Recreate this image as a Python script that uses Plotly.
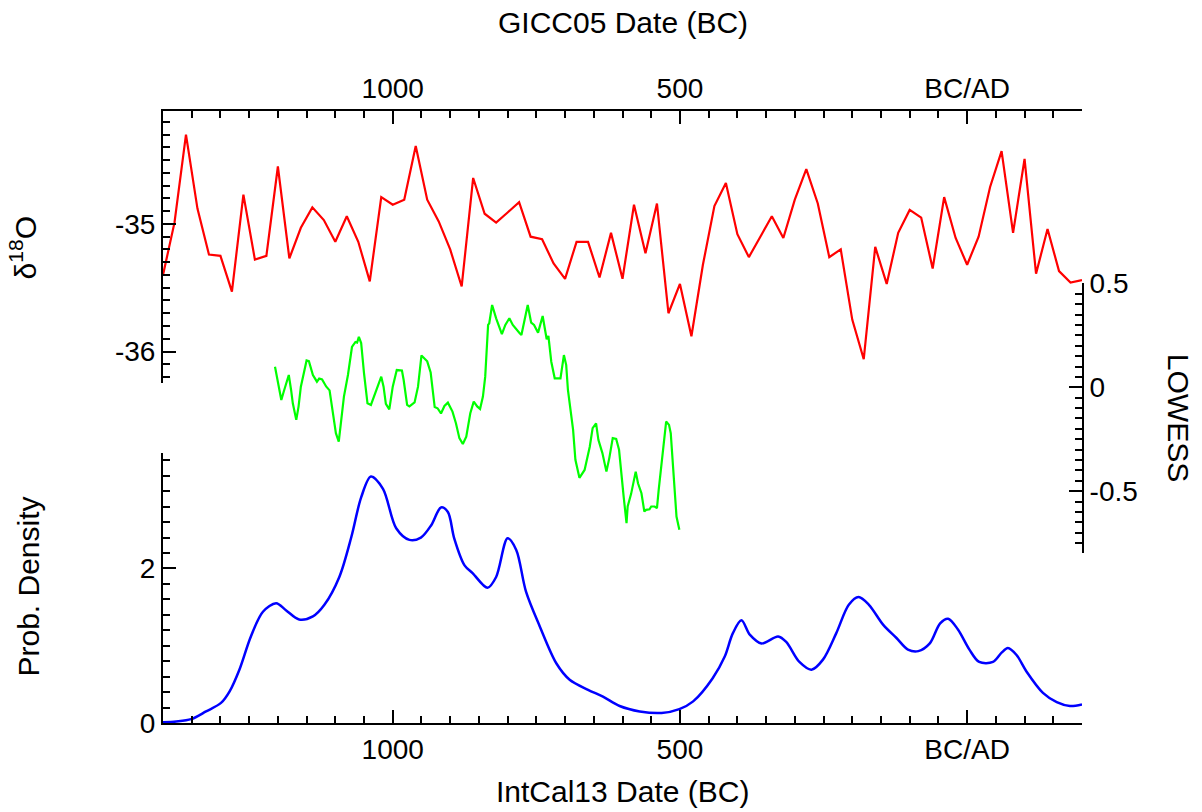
import plotly.graph_objects as go

# ---------------- data ----------------
# Red: GICC05 delta18O (years, BC negative)
red_years = [-1400, -1380, -1360, -1340, -1320, -1300, -1280, -1260, -1240, -1220,
             -1200, -1180, -1160, -1140, -1120, -1100, -1080, -1060, -1040, -1020,
             -1000, -980, -960, -940, -920, -900, -880, -860, -840, -820,
             -800, -780, -760, -740, -720, -700, -680, -660, -640, -620,
             -600, -580, -560, -540, -520, -500, -480, -460, -440, -420,
             -400, -380, -360, -340, -320, -300, -280, -260, -240, -220,
             -200, -180, -160, -140, -120, -100, -80, -60, -40, -20,
             0, 20, 40, 60, 80, 100, 120, 140, 160, 180, 200]
red_d18o = [-35.40, -34.99, -34.30, -34.88, -35.24, -35.25, -35.53, -34.77, -35.28, -35.25,
            -34.55, -35.27, -35.03, -34.87, -34.97, -35.14, -34.94, -35.14, -35.45, -34.79,
            -34.85, -34.81, -34.39, -34.81, -34.98, -35.20, -35.49, -34.64, -34.92, -34.99,
            -34.91, -34.83, -35.10, -35.12, -35.31, -35.43, -35.14, -35.14, -35.42, -35.07,
            -35.43, -34.85, -35.23, -34.84, -35.70, -35.47, -35.88, -35.32, -34.86, -34.68,
            -35.08, -35.26, -35.10, -34.94, -35.11, -34.81, -34.57, -34.84, -35.26, -35.20,
            -35.75, -36.06, -35.18, -35.47, -35.07, -34.89, -34.95, -35.35, -34.79, -35.11,
            -35.32, -35.10, -34.71, -34.43, -35.07, -34.49, -35.39, -35.04, -35.37, -35.46, -35.44]

# Green: LOWESS
green_years = [-1205, -1194, -1190, -1181, -1177, -1174, -1168, -1164, -1160, -1155,
               -1150, -1146, -1139, -1132, -1128, -1123, -1116, -1110, -1105, -1099,
               -1094, -1090, -1085, -1078, -1071, -1065, -1062, -1059, -1055, -1050,
               -1044, -1038, -1029, -1023, -1020, -1016, -1012, -1006, -1000, -993,
               -984, -981, -975, -971, -962, -956, -950, -940, -934, -927,
               -922, -916, -910, -904, -896, -890, -884, -878, -872, -865,
               -859, -853, -848, -843, -839, -834, -832, -827, -820, -810,
               -804, -797, -791, -779, -776, -765, -759, -754, -747, -739,
               -732, -729, -724, -718, -708, -702, -698, -695, -686, -682,
               -675, -666, -657, -652, -646, -642, -635, -628, -623, -617,
               -611, -606, -602, -598, -593, -591, -585, -582, -577, -573,
               -567, -562, -559, -553, -550, -544, -540, -537, -531, -524,
               -519, -516, -512, -506, -501]
green_lowess = [0.099, -0.061, -0.023, 0.059, -0.013, -0.077, -0.157, -0.093, 0.003, 0.067,
                0.129, 0.126, 0.059, 0.027, 0.042, 0.038, 0.004, -0.015, -0.101, -0.221,
                -0.262, -0.157, -0.045, 0.059, 0.194, 0.218, 0.215, 0.243, 0.213, 0.067,
                -0.077, -0.085, -0.018, 0.035, 0.051, 0.003, -0.080, -0.106, 0.003, 0.083,
                0.081, 0.035, -0.085, -0.092, -0.073, 0.003, 0.153, 0.125, 0.071, -0.095,
                -0.101, -0.126, -0.090, -0.074, -0.117, -0.173, -0.245, -0.273, -0.238, -0.125,
                -0.069, -0.092, -0.104, -0.045, 0.051, 0.300, 0.308, 0.396, 0.332, 0.256,
                0.300, 0.332, 0.300, 0.260, 0.252, 0.396, 0.311, 0.300, 0.263, 0.343,
                0.231, 0.247, 0.123, 0.043, 0.043, 0.155, 0.107, -0.013, -0.205, -0.349,
                -0.436, -0.398, -0.286, -0.197, -0.174, -0.253, -0.317, -0.406, -0.341, -0.245,
                -0.249, -0.301, -0.398, -0.526, -0.654, -0.574, -0.513, -0.478, -0.406, -0.462,
                -0.510, -0.598, -0.590, -0.587, -0.574, -0.574, -0.582, -0.494, -0.334, -0.165,
                -0.181, -0.221, -0.382, -0.622, -0.686]

# Blue: IntCal13 summed probability density
blue_years = [-1400, -1377, -1351, -1325, -1299, -1284, -1267, -1247, -1226, -1203,
              -1186, -1163, -1139, -1119, -1093, -1072, -1055, -1038, -1017, -994,
              -971, -951, -933, -916, -904, -893, -875, -861, -835, -820,
              -800, -785, -768, -744, -715, -692, -660, -634, -605, -570,
              -532, -501, -477, -443, -422, -408, -393, -378, -358, -329,
              -315, -292, -271, -251, -228, -206, -189, -171, -146, -123,
              -103, -85, -65, -47, -33, -16, 4, 21, 45, 60,
              71, 86, 103, 132, 156, 179, 200]
blue_density = [0.01, 0.02, 0.05, 0.15, 0.26, 0.41, 0.69, 1.12, 1.44, 1.55,
                1.46, 1.34, 1.38, 1.53, 1.89, 2.41, 2.92, 3.19, 3.03, 2.52,
                2.37, 2.40, 2.56, 2.79, 2.73, 2.39, 2.04, 1.94, 1.75, 1.89,
                2.39, 2.24, 1.70, 1.25, 0.77, 0.56, 0.43, 0.34, 0.22, 0.15,
                0.13, 0.18, 0.28, 0.58, 0.86, 1.16, 1.33, 1.14, 1.03, 1.12,
                1.05, 0.79, 0.69, 0.82, 1.16, 1.53, 1.63, 1.53, 1.27, 1.10,
                0.95, 0.93, 1.03, 1.29, 1.35, 1.21, 0.95, 0.79, 0.79, 0.91,
                0.97, 0.88, 0.67, 0.39, 0.27, 0.22, 0.24]

x_tickvals = [-1000, -500, 0]
x_ticktext = ["1000", "500", "BC/AD"]
red_tickvals = [-35, -36]
red_ticktext = ["-35", "-36"]
green_tickvals = [0.5, 0, -0.5]
green_ticktext = ["0.5", "0", "-0.5"]
blue_tickvals = [0, 2]
blue_ticktext = ["0", "2"]

# ---------------- figure ----------------
FONT = "Liberation Sans, Arial, sans-serif"
FS = 28
FS_TITLE = 30

fig = go.Figure()
fig.add_trace(go.Scatter(x=blue_years, y=blue_density, mode="lines",
                         line=dict(color="#0000FF", width=2.5, shape="spline", smoothing=0.9),
                         xaxis="x", yaxis="y", hoverinfo="skip"))
fig.add_trace(go.Scatter(x=red_years, y=red_d18o, mode="lines",
                         line=dict(color="#FF0000", width=2.2),
                         xaxis="x2", yaxis="y2", hoverinfo="skip"))
fig.add_trace(go.Scatter(x=green_years, y=green_lowess, mode="lines",
                         line=dict(color="#00FF00", width=2.2),
                         xaxis="x", yaxis="y3", hoverinfo="skip"))

xr = [-1400, 200]
minor_x = [v for v in range(-1350, 200, 50) if v % 500 != 0]

common_axis = dict(showgrid=False, zeroline=False, showline=True, linecolor="black",
                   linewidth=2, ticks="inside", ticklen=13, tickwidth=2, tickcolor="black",
                   tickfont=dict(family=FONT, size=FS, color="black"), tickmode="array")

minor_common = dict(ticks="inside", ticklen=7, tickwidth=2, tickcolor="black", showgrid=False,
                    tickmode="array")

fig.update_layout(
    width=1202, height=812,
    margin=dict(l=163, r=120, t=111, b=89),
    paper_bgcolor="white", plot_bgcolor="rgba(0,0,0,0)",
    showlegend=False,
    xaxis=dict(common_axis, range=xr, domain=[0, 1], anchor="y", side="bottom",
               tickvals=x_tickvals, ticktext=x_ticktext,
               minor=dict(minor_common, tickvals=minor_x)),
    xaxis2=dict(common_axis, range=xr, domain=[0, 1], anchor="y2", side="top",
                tickvals=x_tickvals, ticktext=x_ticktext,
                minor=dict(minor_common, tickvals=minor_x)),
    yaxis=dict(common_axis, range=[0, 3.5], domain=[0, 0.4419], anchor="x", side="left",
               tickvals=blue_tickvals, ticktext=blue_ticktext,
               minor=dict(minor_common, tickvals=[0.2, 0.4, 0.6, 0.8, 1.0, 1.2, 1.4, 1.6, 1.8,
                                                  2.2, 2.4, 2.6, 2.8, 3.0, 3.2, 3.4])),
    yaxis2=dict(common_axis, range=[-36.243, -34.115], domain=[0.5563, 1.0], anchor="x2", side="left",
                tickvals=red_tickvals, ticktext=red_ticktext,
                minor=dict(minor_common,
                           tickvals=[-36.2, -36.1, -35.9, -35.8, -35.7, -35.6, -35.5, -35.4, -35.3,
                                     -35.2, -35.1, -34.9, -34.8, -34.7, -34.6, -34.5, -34.4, -34.3, -34.2])),
    yaxis3=dict(common_axis, range=[-0.8, 0.5], domain=[0.2770, 0.7183], anchor="x", side="right",
                tickvals=green_tickvals, ticktext=green_ticktext,
                minor=dict(minor_common,
                           tickvals=[-0.8, -0.75, -0.7, -0.65, -0.6, -0.55, -0.45, -0.4, -0.35, -0.3,
                                     -0.25, -0.2, -0.15, -0.1, -0.05, 0.05, 0.1, 0.15, 0.2, 0.25,
                                     0.3, 0.35, 0.4, 0.45])),
)

title_font = dict(family=FONT, size=FS_TITLE, color="black")
fig.add_annotation(text="GICC05 Date (BC)", xref="paper", yref="paper", x=0.5, y=1.1454,
                   xanchor="center", yanchor="middle", showarrow=False, font=title_font)
fig.add_annotation(text="IntCal13 Date (BC)", xref="paper", yref="paper", x=0.5, y=-0.1122,
                   xanchor="center", yanchor="middle", showarrow=False, font=title_font)
fig.add_annotation(text="δ<sup>18</sup>O", xref="paper", yref="paper", x=-0.152, y=0.776,
                   xanchor="center", yanchor="middle", showarrow=False, textangle=-90, font=title_font)
fig.add_annotation(text="Prob. Density", xref="paper", yref="paper", x=-0.1458, y=0.223,
                   xanchor="center", yanchor="middle", showarrow=False, textangle=-90, font=title_font)
fig.add_annotation(text="LOWESS", xref="paper", yref="paper", x=1.1045, y=0.4986,
                   xanchor="center", yanchor="middle", showarrow=False, textangle=90, font=title_font)

fig.write_html("out.html")
